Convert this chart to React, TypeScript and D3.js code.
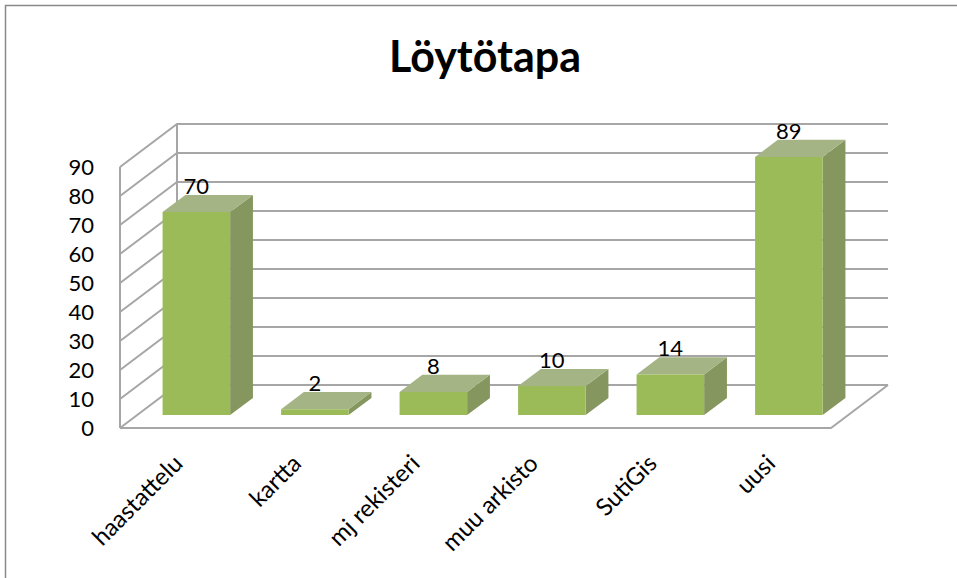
import * as d3 from "d3";

const categories = ["haastattelu", "kartta", "mj rekisteri", "muu arkisto", "SutiGis", "uusi"];
const values = [70, 2, 8, 10, 14, 89];
const yTicks = [0, 10, 20, 30, 40, 50, 60, 70, 80, 90];
const title = "Löytötapa";

const W = 957;
const H = 578;

export default function App() {
  // front plane of the 3d box
  const x = d3
    .scaleBand()
    .domain(categories)
    .range([120, 831])
    .paddingInner(0.43)
    .paddingOuter(0.215);
  const y = d3.scaleLinear().domain([0, 90]).range([428, 167]);
  // depth 0 = front, 1 = back wall
  const depthX = d3.scaleLinear().domain([0, 1]).range([0, 57]);
  const depthY = d3.scaleLinear().domain([0, 1]).range([0, -43]);
  const P = (px: number, v: number, d: number) => [px + depthX(d), y(v) + depthY(d)];
  const pts = (arr: number[][]) => arr.map((p) => p.join(",")).join(" ");

  const dF = 0.3;
  const dB = 0.7;
  const x0 = x.range()[0];
  const x1 = x.range()[1];
  const grid = "#a6a6a6";
  const font = "Lato, 'Open Sans', sans-serif";

  return (
    <svg
      width={W}
      height={H}
      style={{ position: "absolute", left: 0, top: 0, background: "#fff" }}
      fontFamily={font}
    >
      {/* chart border */}
      <path d={`M5.5,${H} L5.5,5.5 L${W},5.5`} fill="none" stroke="#898989" strokeWidth={1.5} />

      <text x={485} y={72} textAnchor="middle" fontSize={43} fontWeight="bold" fill="#000">
        {title}
      </text>

      {/* walls */}
      <g stroke={grid} strokeWidth={2} fill="none">
        {yTicks.map((t) => {
          const a = P(x0, t, 0);
          const b = P(x0, t, 1);
          const c = P(x1, t, 1);
          return <polyline key={t} points={pts([a, b, c])} />;
        })}
        <polyline points={pts([P(x0, 0, 0), P(x0, 90, 0)])} />
        <polyline points={pts([P(x0, 0, 1), P(x0, 90, 1)])} />
        <polyline points={pts([P(x0, 0, 0), P(x1, 0, 0), P(x1, 0, 1)])} />
      </g>

      {/* y axis labels */}
      {yTicks.map((t) => (
        <text key={t} x={94} y={y(t)} dy="0.36em" textAnchor="end" fontSize={22} fill="#000">
          {t}
        </text>
      ))}

      {/* bars */}
      {categories.map((c, i) => {
        const l = x(c) as number;
        const r = l + x.bandwidth();
        const v = values[i];
        const front = [P(l, 0, dF), P(r, 0, dF), P(r, v, dF), P(l, v, dF)];
        const side = [P(r, 0, dF), P(r, 0, dB), P(r, v, dB), P(r, v, dF)];
        const top = [P(l, v, dF), P(r, v, dF), P(r, v, dB), P(l, v, dB)];
        const lbl = P((l + r) / 2, v, dB);
        return (
          <g key={c}>
            <polygon points={pts(side)} fill="#85965f" />
            <polygon points={pts(top)} fill="#a4b484" />
            <polygon points={pts(front)} fill="#9bbb59" />
            <text
              x={P((l + r) / 2, v, dF)[0]}
              y={lbl[1] - 1}
              textAnchor="middle"
              fontSize={22}
              fill="#000"
            >
              {v}
            </text>
          </g>
        );
      })}

      {/* category labels */}
      {categories.map((c) => {
        const cx = (x(c) as number) + x.bandwidth() / 2;
        return (
          <text
            key={c}
            transform={`translate(${cx + 5},465) rotate(-45)`}
            textAnchor="end"
            fontSize={24}
            fill="#000"
          >
            {c}
          </text>
        );
      })}
    </svg>
  );
}
